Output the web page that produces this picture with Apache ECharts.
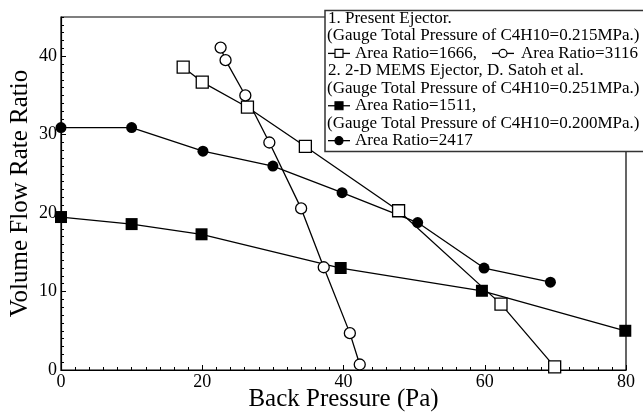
<!DOCTYPE html>
<html>
<head>
<meta charset="utf-8">
<script src="https://cdn.jsdelivr.net/npm/echarts@6/dist/echarts.min.js"></script>
<style>
html, body { margin: 0; padding: 0; background: #fff; }
#main { width: 643px; height: 417px; }
</style>
</head>
<body>
<div id="main"></div>
<script>
// present ejector, area ratio 1666 (open squares)
var ar1666X = [17.3, 20.0, 26.4, 34.6, 47.8, 62.3, 69.9];
var ar1666Y = [38.6, 36.7, 33.5, 28.5, 20.3, 8.4, 0.4];
// present ejector, area ratio 3116 (open circles)
var ar3116X = [22.6, 23.3, 26.1, 29.5, 34.0, 37.2, 40.9, 42.3];
var ar3116Y = [41.1, 39.5, 35.0, 29.0, 20.6, 13.1, 4.7, 0.7];
// 2-D MEMS ejector, area ratio 1511 (filled squares)
var ar1511X = [0, 10.0, 19.9, 39.6, 59.6, 79.9];
var ar1511Y = [19.5, 18.6, 17.3, 13.0, 10.1, 5.0];
// 2-D MEMS ejector, area ratio 2417 (filled circles)
var ar2417X = [0, 10.0, 20.1, 30.0, 39.8, 50.5, 59.9, 69.3];
var ar2417Y = [30.9, 30.9, 27.9, 26.0, 22.6, 18.8, 13.0, 11.2];

var legendLines = [
    '1. Present Ejector.',
    '(Gauge Total Pressure of C4H10=0.215MPa.)',
    'Area Ratio=1666,',
    '2. 2-D MEMS Ejector, D. Satoh et al.',
    '(Gauge Total Pressure of C4H10=0.251MPa.)',
    'Area Ratio=1511,',
    '(Gauge Total Pressure of C4H10=0.200MPa.)',
    'Area Ratio=2417'
];

function pairs(xs, ys) {
    return xs.map(function (x, i) { return [x, ys[i]]; });
}

var FONT = '"Liberation Serif", "Times New Roman", serif';

function lineSeries(name, xs, ys, symbol, size, filled) {
    return {
        name: name,
        type: 'line',
        data: pairs(xs, ys),
        symbol: symbol,
        symbolSize: size,
        showAllSymbol: true,
        clip: false,
        lineStyle: { color: '#000', width: 1.3 },
        itemStyle: {
            color: filled ? '#000' : '#fff',
            borderColor: '#000',
            borderWidth: filled ? 0 : 1.3
        },
        z: filled ? 3 : 4
    };
}

// legend drawn as graphic (mixed text rows + inline samples)
var LX = 325, LY = 10.5, ROW = 17.45, FS = 17;
function rowY(i) { return LY + 8 + i * ROW; }
function sample(x, y, kind) {
    var kids = [{
        type: 'line',
        shape: { x1: x, y1: y, x2: x + 22, y2: y },
        style: { stroke: '#000', lineWidth: 1.3 }
    }];
    var c = x + 11;
    if (kind === 'rect' || kind === 'rectFill') {
        kids.push({
            type: 'rect',
            shape: { x: c - 4, y: y - 4, width: 8, height: 8 },
            style: { fill: kind === 'rectFill' ? '#000' : '#fff', stroke: '#000', lineWidth: 1.2 }
        });
    } else {
        kids.push({
            type: 'circle',
            shape: { cx: c, cy: y, r: 4 },
            style: { fill: kind === 'circleFill' ? '#000' : '#fff', stroke: '#000', lineWidth: 1.2 }
        });
    }
    return kids;
}
function legendText(x, i, txt) {
    return {
        type: 'text',
        x: x, y: rowY(i),
        style: { text: txt, font: FS + 'px ' + FONT, fill: '#000', textVerticalAlign: 'middle' }
    };
}

var legendKids = [{
    type: 'rect',
    shape: { x: LX, y: LY, width: 340, height: 141 },
    style: { fill: '#fff', stroke: '#333', lineWidth: 1.5 }
}];
legendKids.push(legendText(LX + 3, 0, legendLines[0]));
legendKids.push(legendText(LX + 2, 1, legendLines[1]));
legendKids = legendKids.concat(sample(LX + 3, rowY(2), 'rect'));
legendKids.push(legendText(LX + 30, 2, legendLines[2]));
legendKids = legendKids.concat(sample(LX + 167, rowY(2), 'circle'));
legendKids.push(legendText(LX + 196, 2, 'Area Ratio=3116'));
legendKids.push(legendText(LX + 3, 3, legendLines[3]));
legendKids.push(legendText(LX + 2, 4, legendLines[4]));
legendKids = legendKids.concat(sample(LX + 3, rowY(5), 'rectFill'));
legendKids.push(legendText(LX + 30, 5, legendLines[5]));
legendKids.push(legendText(LX + 2, 6, legendLines[6]));
legendKids = legendKids.concat(sample(LX + 3, rowY(7), 'circleFill'));
legendKids.push(legendText(LX + 30, 7, legendLines[7]));

var myChart = echarts.init(document.getElementById('main'));
var option = {
    animation: false,
    backgroundColor: '#fff',
    grid: {
        left: 61, right: 17, top: 17, bottom: 47,
        outerBoundsMode: 'none',
        containLabel: false,
        show: true, borderColor: '#000', borderWidth: 1.2
    },
    xAxis: {
        type: 'value',
        min: 0, max: 80, interval: 20,
        name: 'Back Pressure (Pa)',
        nameLocation: 'middle',
        nameGap: 17,
        nameMoveOverlap: false,
        nameTextStyle: { fontFamily: FONT, fontSize: 25, color: '#000' },
        axisLine: { lineStyle: { color: '#000', width: 1.2 } },
        axisTick: { inside: true, length: 5, lineStyle: { color: '#000' } },
        minorTick: { show: true, splitNumber: 10, length: 3, lineStyle: { color: '#000' } },
        axisLabel: { fontFamily: FONT, fontSize: 18, color: '#000', margin: 3 },
        splitLine: { show: false }
    },
    yAxis: [{
        type: 'value',
        min: 0, max: 45, interval: 10,
        name: 'Volume Flow Rate Ratio',
        nameLocation: 'middle',
        nameGap: 28,
        nameMoveOverlap: false,
        nameTextStyle: { fontFamily: FONT, fontSize: 25, color: '#000' },
        axisLine: { show: true, lineStyle: { color: '#000', width: 1.2 } },
        axisTick: { inside: true, length: 5, lineStyle: { color: '#000' } },
        axisLabel: { fontFamily: FONT, fontSize: 18, color: '#000', margin: 4, showMaxLabel: false },
        splitLine: { show: false }
    }, {
        // minor ticks every 1 unit
        type: 'value',
        position: 'left',
        min: 0, max: 45, interval: 1,
        axisLine: { show: false },
        axisTick: { inside: true, length: 3, lineStyle: { color: '#000' } },
        axisLabel: { show: false },
        splitLine: { show: false }
    }],
    graphic: [{ type: 'group', z: 100, children: legendKids }],
    series: [
        lineSeries('Area Ratio=1666', ar1666X, ar1666Y, 'rect', 12, false),
        lineSeries('Area Ratio=3116', ar3116X, ar3116Y, 'circle', 11, false),
        lineSeries('Area Ratio=1511', ar1511X, ar1511Y, 'rect', 12, true),
        lineSeries('Area Ratio=2417', ar2417X, ar2417Y, 'circle', 11, true)
    ]
};
myChart.setOption(option);
</script>
</body>
</html>
